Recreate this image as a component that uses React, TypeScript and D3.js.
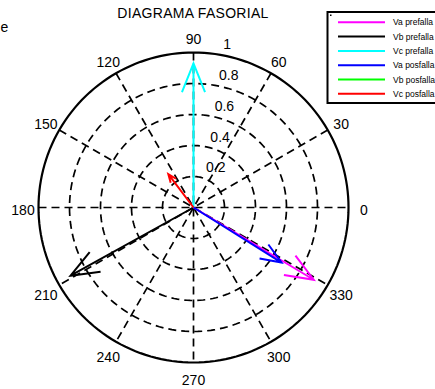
import React from "react";
import * as d3 from "d3";

const seriesLabels = ["Va prefalla", "Vb prefalla", "Vc prefalla", "Va posfalla", "Vb posfalla", "Vc posfalla"];
const seriesColors = ["#ff00ff", "#000000", "#00ffff", "#0000ff", "#00ff00", "#ff0000"];
const magnitudes = [0.905, 0.907, 0.93, 0.67, 0, 0.27];
const anglesDeg = [-31, 209, 90, -32, 0, 127];
const ringValues = [0.2, 0.4, 0.6, 0.8];
const ringLabels = ["0.2", "0.4", "0.6", "0.8", "1"];
const angleTicks = [0, 30, 60, 90, 120, 150, 180, 210, 240, 270, 300, 330];
const title = "DIAGRAMA FASORIAL";

const W = 435;
const H = 389;
const cx = 193.5;
const cy = 207.5;
const R = 155;

export default function App() {
  const r = d3.scaleLinear().domain([0, 1]).range([0, R]);
  const toXY = (rad: number, deg: number): [number, number] => {
    const a = (deg * Math.PI) / 180;
    return [cx + r(rad) * Math.cos(a), cy - r(rad) * Math.sin(a)];
  };
  const line = d3.line<[number, number]>();
  const circlePts = (v: number) =>
    d3.range(0, 361, 2).map((d) => toXY(v, d));

  const arrows = magnitudes.map((m, i) => {
    const a = (anglesDeg[i] * Math.PI) / 180;
    // compass-style arrow: [0, 1, 0.8+0.08i, 1, 0.8-0.08i] * z
    const base: [number, number][] = [
      [0, 0],
      [1, 0],
      [0.8, 0.08],
      [1, 0],
      [0.8, -0.08],
    ];
    return base.map(([bx, by]) => {
      const x = m * (bx * Math.cos(a) - by * Math.sin(a));
      const y = m * (bx * Math.sin(a) + by * Math.cos(a));
      return [cx + r(x), cy - r(y)] as [number, number];
    });
  });

  const font = "Arial, 'Liberation Sans', Helvetica, sans-serif";
  const c82 = Math.cos((82 * Math.PI) / 180);
  const s82 = Math.sin((82 * Math.PI) / 180);
  const ringAll = [...ringValues, 1];

  const legendY0 = 22.3;
  const legendStep = 14.3;

  return (
    <svg
      width={W}
      height={H}
      style={{ position: "absolute", left: 0, top: 0, background: "#fff" }}
      fontFamily={font}
    >
      <rect x={0} y={0} width={W} height={H} fill="#fff" />
      {/* radial spokes */}
      {[30, 60, 90, 120, 150, 180].map((d) => {
        const p1 = toXY(1, d);
        const p2 = toXY(1, d + 180);
        return (
          <line
            key={"s" + d}
            x1={p1[0]}
            y1={p1[1]}
            x2={p2[0]}
            y2={p2[1]}
            stroke="#000"
            strokeWidth={1.7}
            strokeDasharray="8,5"
          />
        );
      })}
      {/* dashed rings */}
      {ringValues.map((v) => (
        <path
          key={"c" + v}
          d={line(circlePts(v)) || ""}
          fill="none"
          stroke="#000"
          strokeWidth={1.7}
          strokeDasharray="8,5"
        />
      ))}
      {/* outer ring */}
      <path d={line(circlePts(1)) + "Z"} fill="none" stroke="#000" strokeWidth={2.2} />
      {/* ring labels */}
      {ringAll.map((v, i) => {
        const x = cx + r(v + 0.01) * c82 + 8;
        const y = cy - r(v + 0.01) * s82 - 3;
        return (
          <text key={"rl" + v} x={x} y={y} fontSize={14} fill="#000">
            {ringLabels[i]}
          </text>
        );
      })}
      {/* angle labels */}
      {angleTicks.map((d) => {
        const [x, y] = toXY(1.1, d);
        return (
          <text key={"al" + d} x={x} y={y + 7} fontSize={14} textAnchor="middle" fill="#000">
            {d}
          </text>
        );
      })}
      {/* arrows */}
      {arrows.map((pts, i) =>
        magnitudes[i] > 0 ? (
          <path
            key={"a" + i}
            d={line(pts) || ""}
            fill="none"
            stroke={seriesColors[i]}
            strokeWidth={2}
            strokeLinejoin="miter"
          />
        ) : null
      )}
      {/* title */}
      <text x={193} y={18} fontSize={14} textAnchor="middle" letterSpacing={0.3} fill="#000">
        {title}
      </text>
      {/* stray glyph at top-left */}
      <text x={0.5} y={32} fontSize={14} fill="#000">e</text>
      {/* legend */}
      <rect x={327.5} y={12} width={120} height={91} fill="#fff" stroke="#000" strokeWidth={2} />
      <rect x={330} y={14.5} width={1.5} height={1.5} fill="#000" />
      {seriesLabels.map((lab, i) => {
        const y = legendY0 + i * legendStep;
        return (
          <g key={"lg" + i}>
            <line x1={338} x2={385} y1={y} y2={y} stroke={seriesColors[i]} strokeWidth={2} />
            <text x={393} y={y + 3} fontSize={8.5} fill="#000">
              {lab}
            </text>
          </g>
        );
      })}
    </svg>
  );
}
